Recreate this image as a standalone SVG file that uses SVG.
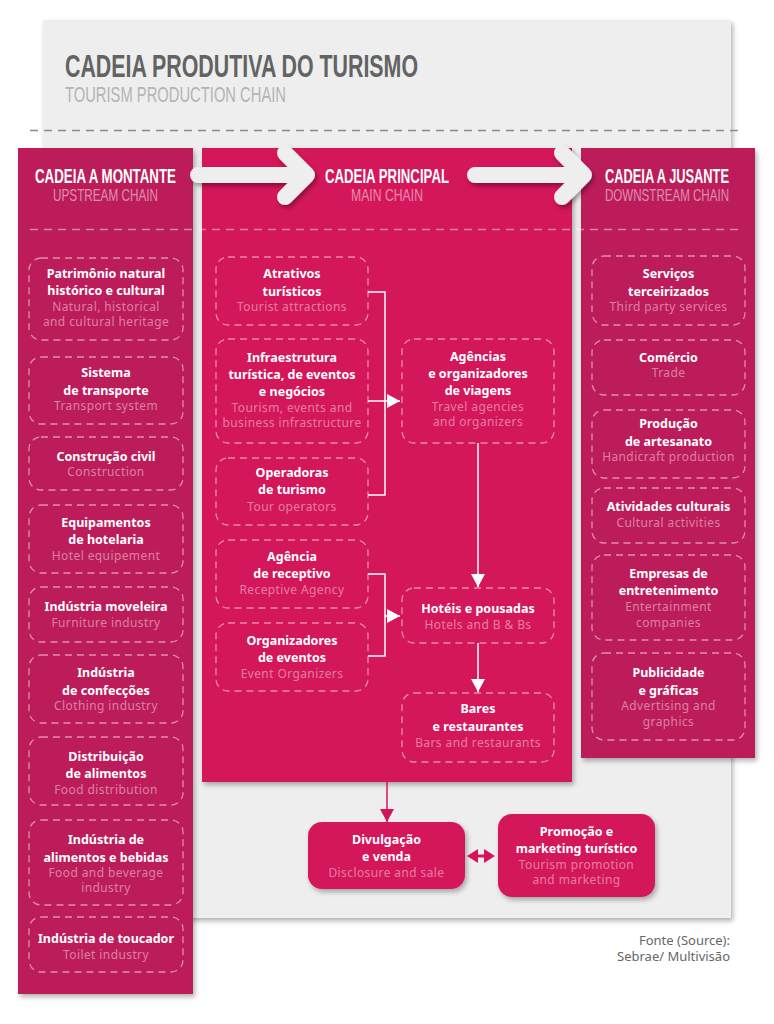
<svg xmlns="http://www.w3.org/2000/svg" width="774" height="1024" viewBox="0 0 774 1024">
<defs>
<filter id="sh" x="-10%" y="-10%" width="130%" height="130%">
<feDropShadow dx="2" dy="3" stdDeviation="2.5" flood-color="#000" flood-opacity="0.3"/>
</filter>
<filter id="sh2" x="-20%" y="-40%" width="140%" height="180%">
<feDropShadow dx="2" dy="3" stdDeviation="2" flood-color="#000" flood-opacity="0.35"/>
</filter>
<marker id="aw" markerUnits="userSpaceOnUse" markerWidth="13" markerHeight="14" viewBox="0 0 13 14" refX="13" refY="7" orient="auto">
<path d="M0 0 L13 7 L0 14 z" fill="#ffffff"/>
</marker>
<marker id="ap" markerUnits="userSpaceOnUse" markerWidth="13" markerHeight="14" viewBox="0 0 13 14" refX="13" refY="7" orient="auto">
<path d="M0 0 L13 7 L0 14 z" fill="#d4145a"/>
</marker>
</defs>
<style>
.side{fill:#bd1a5a}
.main{fill:#d4145a}
.box{fill:none;stroke:#ffffff;stroke-opacity:0.5;stroke-width:1.3;stroke-dasharray:7 5}
.t{font-family:"Noto Sans","Liberation Sans",sans-serif;font-size:12.5px;font-weight:bold;fill:#ffffff;text-anchor:middle}
.s{font-family:"Noto Sans","Liberation Sans",sans-serif;font-size:12px;letter-spacing:0.4px;fill:#ffffff;fill-opacity:0.45;text-anchor:middle}
.h{font-family:"Liberation Sans",sans-serif;font-weight:bold;font-size:20px;fill:#ffffff;text-anchor:middle}
.hs{font-family:"Liberation Sans",sans-serif;font-size:17px;fill:#ffffff;fill-opacity:0.5;text-anchor:middle}
.con{fill:none;stroke:#ffffff;stroke-width:1.5}
.big{fill:none;stroke:#eeeeee;stroke-width:16;stroke-linecap:round;stroke-linejoin:round}
.src{font-family:"Noto Sans","Liberation Sans",sans-serif;font-size:13px;fill:#666666;text-anchor:end}
</style>

<rect x="43" y="20" width="688" height="898" fill="#eeeeee" filter="url(#sh)"/>
<text x="65" y="77" font-family="Liberation Sans, sans-serif" font-weight="bold" font-size="32" fill="#636363" textLength="353" lengthAdjust="spacingAndGlyphs">CADEIA PRODUTIVA DO TURISMO</text>
<text x="65" y="102" font-family="Liberation Sans, sans-serif" font-size="22" fill="#b4b4b4" textLength="221" lengthAdjust="spacingAndGlyphs">TOURISM PRODUCTION CHAIN</text>
<line x1="30" y1="130.5" x2="743" y2="130.5" stroke="#8a8a8a" stroke-width="1.3" stroke-dasharray="8 6"/>

<g id="columns">
<rect class="side" x="18" y="148" width="175" height="846" filter="url(#sh)"/>
<rect class="main" x="202" y="148" width="370" height="634" filter="url(#sh)"/>
<rect class="side" x="581" y="148" width="174" height="610" filter="url(#sh)"/>
</g>

<g id="big-arrows" filter="url(#sh2)">
<path class="big" d="M198 175 H304 M285 153 L307 175 L285 197"/>
<path class="big" d="M475 175 H581 M562 153 L584 175 L562 197"/>
</g>

<g id="headers">
<text class="h" x="105.5" y="183" textLength="141" lengthAdjust="spacingAndGlyphs">CADEIA A MONTANTE</text>
<text class="hs" x="105.5" y="201" textLength="105" lengthAdjust="spacingAndGlyphs">UPSTREAM CHAIN</text>
<text class="h" x="387" y="183" textLength="124" lengthAdjust="spacingAndGlyphs">CADEIA PRINCIPAL</text>
<text class="hs" x="387" y="201" textLength="72" lengthAdjust="spacingAndGlyphs">MAIN CHAIN</text>
<text class="h" x="667" y="183" textLength="124" lengthAdjust="spacingAndGlyphs">CADEIA A JUSANTE</text>
<text class="hs" x="667" y="201" textLength="124" lengthAdjust="spacingAndGlyphs">DOWNSTREAM CHAIN</text>
</g>
<line x1="30" y1="229.5" x2="743" y2="229.5" stroke="#ffffff" stroke-opacity="0.45" stroke-width="1.3" stroke-dasharray="8 6"/>

<!-- upstream -->
<g id="u1"><rect class="box" x="29" y="258" width="154" height="82" rx="12"/>
<text class="t" x="106" y="278">Patrimônio natural</text><text class="t" x="106" y="295">histórico e cultural</text>
<text class="s" x="106" y="311">Natural, historical</text><text class="s" x="106" y="326">and cultural heritage</text></g>
<g id="u2"><rect class="box" x="29" y="357" width="154" height="67" rx="12"/>
<text class="t" x="106" y="377">Sistema</text><text class="t" x="106" y="395">de transporte</text>
<text class="s" x="106" y="410">Transport system</text></g>
<g id="u3"><rect class="box" x="29" y="437" width="154" height="53" rx="12"/>
<text class="t" x="106" y="461">Construção civil</text><text class="s" x="106" y="476">Construction</text></g>
<g id="u4"><rect class="box" x="29" y="505" width="154" height="68" rx="12"/>
<text class="t" x="106" y="527">Equipamentos</text><text class="t" x="106" y="544">de hotelaria</text>
<text class="s" x="106" y="560">Hotel equipement</text></g>
<g id="u5"><rect class="box" x="29" y="587" width="154" height="55" rx="12"/>
<text class="t" x="106" y="611">Indústria moveleira</text><text class="s" x="106" y="627">Furniture industry</text></g>
<g id="u6"><rect class="box" x="29" y="655" width="154" height="68" rx="12"/>
<text class="t" x="106" y="677">Indústria</text><text class="t" x="106" y="695">de confecções</text>
<text class="s" x="106" y="710">Clothing industry</text></g>
<g id="u7"><rect class="box" x="29" y="737" width="154" height="68" rx="12"/>
<text class="t" x="106" y="761">Distribuição</text><text class="t" x="106" y="778">de alimentos</text>
<text class="s" x="106" y="794">Food distribution</text></g>
<g id="u8"><rect class="box" x="29" y="820" width="154" height="85" rx="12"/>
<text class="t" x="106" y="844">Indústria de</text><text class="t" x="106" y="862">alimentos e bebidas</text>
<text class="s" x="106" y="877">Food and beverage</text><text class="s" x="106" y="892">industry</text></g>
<g id="u9"><rect class="box" x="29" y="917" width="154" height="55" rx="12"/>
<text class="t" x="106" y="943">Indústria de toucador</text><text class="s" x="106" y="959">Toilet industry</text></g>

<!-- main -->
<g id="m1"><rect class="box" x="216" y="257" width="152" height="68" rx="12"/>
<text class="t" x="292" y="278">Atrativos</text><text class="t" x="292" y="296">turísticos</text>
<text class="s" x="292" y="311">Tourist attractions</text></g>
<g id="m2"><rect class="box" x="216" y="339" width="152" height="104" rx="12"/>
<text class="t" x="292" y="362">Infraestrutura</text><text class="t" x="292" y="379">turística, de eventos</text><text class="t" x="292" y="396">e negócios</text>
<text class="s" x="292" y="412">Tourism, events and</text><text class="s" x="292" y="427">business infrastructure</text></g>
<g id="m3"><rect class="box" x="216" y="458" width="152" height="67" rx="12"/>
<text class="t" x="292" y="477">Operadoras</text><text class="t" x="292" y="494">de turismo</text>
<text class="s" x="292" y="511">Tour operators</text></g>
<g id="m4"><rect class="box" x="216" y="540" width="152" height="68" rx="12"/>
<text class="t" x="292" y="561">Agência</text><text class="t" x="292" y="578">de receptivo</text>
<text class="s" x="292" y="594">Receptive Agency</text></g>
<g id="m5"><rect class="box" x="216" y="623" width="152" height="68" rx="12"/>
<text class="t" x="292" y="645">Organizadores</text><text class="t" x="292" y="662">de eventos</text>
<text class="s" x="292" y="678">Event Organizers</text></g>
<g id="m6"><rect class="box" x="402" y="339" width="152" height="104" rx="12"/>
<text class="t" x="478" y="361">Agências</text><text class="t" x="478" y="378">e organizadores</text><text class="t" x="478" y="395">de viagens</text>
<text class="s" x="478" y="411">Travel agencies</text><text class="s" x="478" y="426">and organizers</text></g>
<g id="m7"><rect class="box" x="402" y="588" width="152" height="55" rx="12"/>
<text class="t" x="478" y="613">Hotéis e pousadas</text><text class="s" x="478" y="629">Hotels and B &amp; Bs</text></g>
<g id="m8"><rect class="box" x="402" y="693" width="152" height="69" rx="12"/>
<text class="t" x="478" y="713">Bares</text><text class="t" x="478" y="731">e restaurantes</text>
<text class="s" x="478" y="747">Bars and restaurants</text></g>

<!-- downstream -->
<g id="d1"><rect class="box" x="592" y="256" width="153" height="69" rx="12"/>
<text class="t" x="668.5" y="278">Serviços</text><text class="t" x="668.5" y="296">terceirizados</text>
<text class="s" x="668.5" y="311">Third party services</text></g>
<g id="d2"><rect class="box" x="592" y="340" width="153" height="55" rx="12"/>
<text class="t" x="668.5" y="362">Comércio</text><text class="s" x="668.5" y="377">Trade</text></g>
<g id="d3"><rect class="box" x="592" y="410" width="153" height="68" rx="12"/>
<text class="t" x="668.5" y="428">Produção</text><text class="t" x="668.5" y="446">de artesanato</text>
<text class="s" x="668.5" y="461">Handicraft production</text></g>
<g id="d4"><rect class="box" x="592" y="488" width="153" height="55" rx="12"/>
<text class="t" x="668.5" y="511">Atividades culturais</text><text class="s" x="668.5" y="527">Cultural activities</text></g>
<g id="d5"><rect class="box" x="592" y="555" width="153" height="85" rx="12"/>
<text class="t" x="668.5" y="578">Empresas de</text><text class="t" x="668.5" y="595">entretenimento</text>
<text class="s" x="668.5" y="611">Entertainment</text><text class="s" x="668.5" y="627">companies</text></g>
<g id="d6"><rect class="box" x="592" y="653" width="153" height="87" rx="12"/>
<text class="t" x="668.5" y="677">Publicidade</text><text class="t" x="668.5" y="695">e gráficas</text>
<text class="s" x="668.5" y="710">Advertising and</text><text class="s" x="668.5" y="726">graphics</text></g>

<g id="connectors">
<path class="con" d="M368 292 H385 V495 H368"/>
<path class="con" d="M368 401 H400" marker-end="url(#aw)"/>
<path class="con" d="M368 574 H385 V656 H368"/>
<path class="con" d="M385 616 H400" marker-end="url(#aw)"/>
<path class="con" d="M478 443 V587" marker-end="url(#aw)"/>
<path class="con" d="M478 643 V692" marker-end="url(#aw)"/>
<path d="M387 782 V822" fill="none" stroke="#d4145a" stroke-width="1.5" marker-end="url(#ap)"/>
<path d="M467 856 L478 849 L478 863 z M495 856 L484 849 L484 863 z" fill="#d4145a"/>
<line x1="478" y1="856" x2="484" y2="856" stroke="#d4145a" stroke-width="3"/>
</g>

<g id="b1"><rect x="308" y="822" width="157" height="67" rx="14" fill="#d4145a" filter="url(#sh)"/>
<text class="t" x="386.5" y="844">Divulgação</text><text class="t" x="386.5" y="861">e venda</text>
<text class="s" x="386.5" y="877">Disclosure and sale</text></g>
<g id="b2"><rect x="498" y="814" width="157" height="83" rx="14" fill="#d4145a" filter="url(#sh)"/>
<text class="t" x="576.5" y="836">Promoção e</text><text class="t" x="576.5" y="853">marketing turístico</text>
<text class="s" x="576.5" y="869">Tourism promotion</text><text class="s" x="576.5" y="884">and marketing</text></g>

<text class="src" x="730" y="945">Fonte (Source):</text>
<text class="src" x="730" y="961">Sebrae/ Multivisão</text>
</svg>
